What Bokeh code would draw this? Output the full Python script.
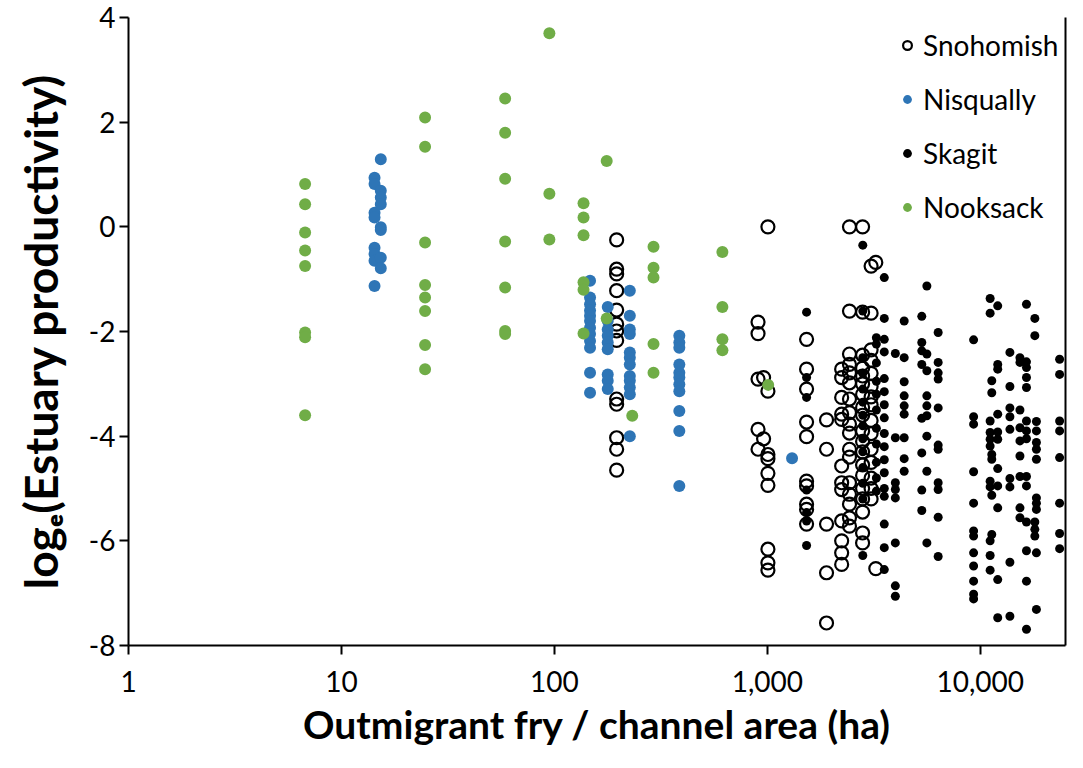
from bokeh.plotting import figure
from bokeh.models import (FixedTicker, Legend, LegendItem, ColumnDataSource,
                          NumeralTickFormatter, LinearAxis)
from bokeh.embed import file_html
from bokeh.resources import INLINE

# ---------------- data ----------------
sno_x = [196, 904, 960, 1006, 1528, 1896, 2233, 2430, 2800, 3070, 3230]
sno_y = [
    [-0.25, -0.81, -0.90, -1.22, -1.59, -1.86, -1.99, -2.17, -3.29, -3.39, -4.03, -4.25, -4.65],
    [-1.82, -2.04, -2.91, -3.87, -4.25],
    [-2.88, -4.05],
    [0.0, -3.14, -4.35, -4.43, -4.71, -4.94, -6.16, -6.42, -6.56],
    [-2.15, -2.72, -3.10, -3.73, -4.01, -4.86, -4.95, -5.30, -5.40, -5.68],
    [-3.69, -4.25, -5.68, -6.61, -7.57],
    [-2.72, -2.88, -3.26, -3.58, -3.68, -4.57, -4.89, -5.02, -5.62, -6.00, -6.23, -6.45],
    [0.0, -1.61, -2.43, -2.63, -2.79, -2.98, -3.29, -3.55, -3.77, -3.94, -4.25, -4.40,
     -4.89, -5.11, -5.30, -5.56, -5.72],
    [0.0, -1.63, -2.45, -2.70, -2.85, -3.00, -3.20, -3.45, -3.60, -3.90, -4.10, -4.30,
     -4.55, -4.75, -5.00, -5.20, -5.45, -5.85, -6.04],
    [-0.75, -1.65, -2.35, -2.55, -2.80, -3.05, -3.25, -3.40, -3.70, -3.95, -4.25, -4.50,
     -4.80, -5.00, -5.20],
    [-0.68, -6.53],
]

nis_x = [14.3, 15.3, 147, 178, 226, 386, 1306]
nis_y = [
    [0.94, 0.82, 0.27, 0.18, -0.40, -0.52, -0.65, -1.13],
    [1.29, 0.69, 0.56, 0.43, -0.01, -0.06, -0.59, -0.79],
    [-1.03, -1.35, -1.48, -1.60, -1.70, -1.80, -1.93, -2.05, -2.18, -2.31, -2.79, -3.17],
    [-1.53, -1.80, -1.96, -2.08, -2.21, -2.34, -2.82, -2.94, -3.10],
    [-1.22, -1.70, -1.96, -2.05, -2.40, -2.50, -2.63, -2.85, -2.94, -3.07, -3.20, -4.00],
    [-2.08, -2.21, -2.31, -2.63, -2.79, -2.88, -3.01, -3.14, -3.52, -3.90, -4.95],
    [-4.42],
]

sk_x = [1528, 2806, 3250, 3540, 3990, 4390, 5310, 5610, 6340, 9300, 11120, 11320,
        12070, 13770, 15350, 16470, 18030, 18340, 23570]
sk_y = [
    [-1.63, -2.88, -3.26, -5.03, -5.46, -5.62, -6.09],
    [-0.35, -1.61, -2.50, -2.80, -3.10, -3.35, -3.60, -3.80, -4.05, -4.30, -4.60, -4.90, -5.20, -6.28],
    [-2.12, -2.24, -2.60, -2.95, -3.20, -3.50, -3.85, -4.15, -4.50, -4.80, -5.05],
    [-0.97, -1.75, -2.15, -2.39, -2.90, -3.15, -3.40, -3.65, -3.95, -4.20, -4.45, -4.70,
     -5.00, -5.15, -5.68, -6.13, -6.55],
    [-2.42, -4.03, -4.89, -5.02, -5.18, -6.04, -6.86, -7.06],
    [-1.80, -2.50, -2.96, -3.23, -3.42, -3.58, -4.03, -4.43, -4.67],
    [-1.71, -2.21, -2.37, -2.63, -3.66, -4.32, -5.03, -5.42],
    [-1.13, -2.43, -2.75, -3.23, -3.42, -3.61, -4.00, -4.67, -6.04],
    [-2.02, -2.59, -2.79, -2.91, -3.46, -4.17, -4.25, -4.89, -5.02, -5.55, -6.30],
    [-2.16, -3.63, -3.77, -4.68, -5.28, -5.81, -5.91, -6.23, -6.48, -6.77, -7.02, -7.11],
    [-1.37, -1.65, -3.71, -3.93, -4.06, -4.19, -4.86, -4.97, -6.00, -6.28, -6.56],
    [-2.94, -3.17, -4.35, -4.44, -5.13, -5.88],
    [-1.51, -2.63, -2.72, -3.58, -3.92, -4.06, -4.62, -4.95, -5.37, -6.74, -7.47],
    [-2.40, -3.05, -3.46, -3.63, -3.87, -4.81, -4.97, -6.41, -7.44],
    [-2.50, -2.59, -3.50, -3.84, -4.09, -4.38, -4.77, -5.37, -5.56],
    [-1.48, -2.58, -2.69, -2.88, -3.07, -3.71, -3.90, -4.05, -4.77, -4.95, -5.64, -6.19, -6.77, -7.69],
    [-1.75, -2.08, -5.64, -5.78, -5.91],
    [-3.72, -3.90, -4.12, -4.25, -4.44, -5.18, -5.28, -5.40, -6.23, -7.31],
    [-2.53, -2.82, -3.71, -3.90, -4.41, -5.28, -5.86, -6.15],
]

nook_x = [6.75, 24.7, 58.7, 94.7, 137, 176, 232, 292, 615, 1009]
nook_y = [
    [0.82, 0.43, -0.11, -0.45, -0.75, -2.02, -2.11, -3.60],
    [2.09, 1.53, -0.30, -1.11, -1.35, -1.61, -2.26, -2.72],
    [2.45, 1.80, 0.92, -0.28, -1.16, -1.99, -2.05],
    [3.70, 0.63, -0.24],
    [0.45, 0.18, -0.16, -1.06, -1.20, -2.04],
    [1.26, -1.75],
    [-3.61],
    [-0.38, -0.78, -0.97, -2.24, -2.79],
    [-0.48, -1.53, -2.15, -2.36],
    [-3.02],
]

x_ticks = [1, 10, 100, 1000, 10000]
y_ticks = [-8, -6, -4, -2, 0, 2, 4]
series_names = ["Snohomish", "Nisqually", "Skagit", "Nooksack"]

X_START, X_END = 1, 10 ** 4.40
Y_START, Y_END = -8, 4


def flatten(xs, ys):
    fx, fy = [], []
    for x, col in zip(xs, ys):
        for v in col:
            fx.append(x)
            fy.append(v)
    return ColumnDataSource(dict(x=fx, y=fy))


FONT = "Lato"

p = figure(width=1067, height=752, x_axis_type="log",
           x_range=(X_START, X_END), y_range=(Y_START, Y_END),
           output_backend="svg", toolbar_location=None,
           min_border_left=128, min_border_right=2, min_border_top=17,
           min_border_bottom=107)
p.grid.visible = False
p.outline_line_color = None
p.background_fill_color = "white"
p.border_fill_color = "white"

# axes
p.xaxis.ticker = FixedTicker(ticks=x_ticks)
p.xaxis.formatter = NumeralTickFormatter(format="0,0")
p.yaxis.ticker = FixedTicker(ticks=y_ticks)
p.yaxis.major_label_overrides = {t: str(t) for t in y_ticks}
for ax in (p.xaxis, p.yaxis):
    ax.minor_tick_line_color = None
    ax.major_tick_in = 0
    ax.major_tick_out = 9
    ax.axis_line_width = 2
    ax.major_tick_line_width = 2
    ax.axis_line_color = "black"
    ax.major_tick_line_color = "black"
    ax.major_label_text_font = FONT
    ax.major_label_text_font_size = "28px"
    ax.major_label_text_color = "black"
    ax.axis_label_text_font = FONT
    ax.axis_label_text_font_style = "bold"
    ax.axis_label_text_color = "black"

p.xaxis.axis_label = "Outmigrant fry / channel area (ha)"
p.xaxis.axis_label_text_font_size = "39px"
p.xaxis.major_label_standoff = 16
p.xaxis.axis_label_standoff = 6

p.yaxis.axis_label = "log\u2091(Estuary productivity)"
p.yaxis.axis_label_text_font_size = "46px"
p.yaxis.major_label_standoff = 4
p.yaxis.axis_label_standoff = 18

# right border line (an axis without ticks or labels)
right_axis = LinearAxis(ticker=FixedTicker(ticks=[]), axis_line_width=2,
                        axis_line_color="black", major_tick_in=0, major_tick_out=0,
                        minor_tick_in=0, minor_tick_out=0,
                        major_label_standoff=0, major_label_text_font_size="0px")
p.add_layout(right_axis, "right")

# glyphs
r_sno = p.scatter("x", "y", source=flatten(sno_x, sno_y), marker="circle", size=13,
                  fill_color=None, line_color="black", line_width=2.2)
r_nis = p.scatter("x", "y", source=flatten(nis_x, nis_y), marker="circle", size=12,
                  fill_color="#2E75B6", line_color=None)
r_sk = p.scatter("x", "y", source=flatten(sk_x, sk_y), marker="circle", size=9,
                 fill_color="black", line_color=None)
r_nook = p.scatter("x", "y", source=flatten(nook_x, nook_y), marker="circle", size=12,
                   fill_color="#70AD47", line_color=None)

legend = Legend(items=[LegendItem(label=n, renderers=[r]) for n, r in
                       zip(series_names, [r_sno, r_nis, r_sk, r_nook])],
                location=(768, 421), orientation="vertical",
                glyph_width=22, glyph_height=34, label_height=34, spacing=20,
                label_standoff=5, padding=0, margin=0,
                label_text_font=FONT, label_text_font_size="28px",
                label_text_color="black", label_text_baseline="middle",
                border_line_color=None, background_fill_alpha=0)
p.add_layout(legend, "center")

open("out.html", "w").write(file_html(p, INLINE))
